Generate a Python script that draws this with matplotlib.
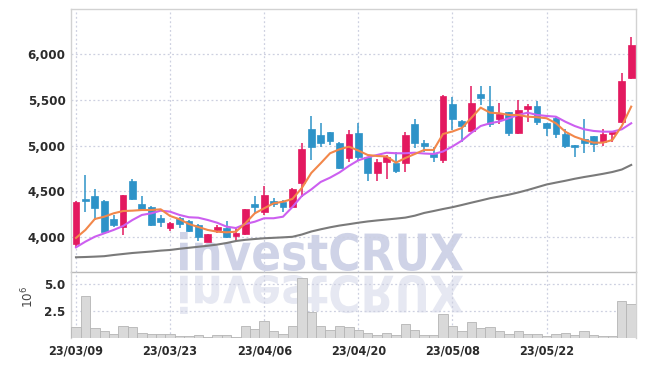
import matplotlib
matplotlib.use("Agg")
import matplotlib.pyplot as plt
from matplotlib.textpath import TextPath
from matplotlib.patches import PathPatch
from matplotlib.font_manager import FontProperties
from matplotlib.transforms import Affine2D
from matplotlib.ticker import FuncFormatter

plt.rcParams['font.family'] = ['DejaVu Sans']
plt.rcParams['font.stretch'] = 'condensed'

# daily candles, 23/03/09 .. 23/06/05
dates = ['23/03/09', '23/03/23', '23/04/06', '23/04/20', '23/05/08', '23/05/22']
date_idx = [0, 10, 20, 30, 40, 50]

opens = [3925, 4410, 4449, 4394, 4197, 4109, 4613, 4361, 4328, 4208,
         4098, 4208, 4170, 4131, 3949, 4077, 4102, 4011, 4033, 4361,
         4277, 4394, 4383, 4332, 4587, 5181, 5116, 5145, 5032, 4861,
         5135, 4872, 4704, 4817, 4813, 4813, 5233, 5032, 4908, 4842,
         5455, 5269, 5163, 5565, 5433, 5291, 5364, 5134, 5404, 5437,
         5244, 5298, 5127, 5007, 5072, 5105, 5043, 5124, 5255, 5736]
closes = [4385, 4400, 4317, 4055, 4131, 4459, 4416, 4306, 4131, 4164,
          4153, 4142, 4070, 3997, 4033, 4106, 3997, 4047, 4303, 4332,
          4459, 4365, 4332, 4522, 4959, 4988, 5025, 5054, 4751, 5124,
          4872, 4704, 4824, 4872, 4725, 5116, 5025, 4999, 4878, 5543,
          5288, 5218, 5463, 5524, 5233, 5346, 5134, 5389, 5433, 5262,
          5196, 5124, 4999, 4988, 5025, 5014, 5124, 5145, 5707, 6100]
highs = [4390, 4678, 4525, 4400, 4240, 4460, 4635, 4449, 4340, 4240,
         4160, 4219, 4185, 4140, 4035, 4128, 4178, 4095, 4310, 4449,
         4558, 4430, 4405, 4533, 5032, 5324, 5251, 5150, 5040, 5171,
         5251, 4880, 4850, 4897, 4933, 5152, 5288, 5061, 4988, 5550,
         5535, 5280, 5652, 5652, 5652, 5469, 5370, 5499, 5455, 5491,
         5250, 5310, 5178, 5010, 5288, 5110, 5178, 5150, 5797, 6185]
lows = [3880, 4274, 4185, 4050, 4110, 4022, 4405, 4300, 4120, 4110,
        4066, 4098, 4060, 3955, 3945, 4047, 3990, 3960, 4025, 4266,
        4241, 4332, 4277, 4325, 4441, 4842, 4988, 5010, 4740, 4824,
        4842, 4616, 4616, 4635, 4704, 4715, 4970, 4933, 4824, 4813,
        5171, 5043, 5160, 5444, 5207, 5236, 5105, 5130, 5262, 5225,
        5105, 5080, 4970, 4878, 4915, 4933, 4995, 5043, 5250, 5730]

ma_short = [3990, 4077, 4197, 4222, 4259, 4284, 4288, 4295, 4295, 4303,
            4230, 4194, 4142, 4109, 4077, 4058, 4051, 4058, 4150, 4259,
            4314, 4368, 4386, 4416, 4536, 4700, 4806, 4916, 4959, 4988,
            4946, 4897, 4886, 4881, 4813, 4864, 4908, 4952, 4952, 5127,
            5154, 5192, 5302, 5415, 5360, 5353, 5335, 5335, 5316, 5310,
            5299, 5244, 5152, 5097, 5061, 5032, 5032, 5061, 5214, 5426]
ma_mid = [3887, 3949, 4003, 4040, 4077, 4120, 4186, 4241, 4259, 4288,
          4277, 4241, 4216, 4211, 4186, 4156, 4113, 4098, 4142, 4167,
          4205, 4205, 4222, 4328, 4449, 4520, 4602, 4649, 4706, 4777,
          4839, 4872, 4897, 4922, 4916, 4916, 4922, 4913, 4908, 4935,
          4990, 5054, 5138, 5214, 5244, 5264, 5299, 5335, 5360, 5335,
          5324, 5316, 5261, 5214, 5178, 5160, 5152, 5152, 5178, 5244]
ma_long = [3778, 3781, 3785, 3790, 3803, 3814, 3825, 3833, 3841, 3851,
           3858, 3871, 3882, 3893, 3904, 3917, 3934, 3956, 3969, 3978,
           3986, 3991, 3996, 4002, 4027, 4060, 4084, 4106, 4125, 4140,
           4156, 4170, 4181, 4191, 4201, 4212, 4233, 4263, 4284, 4306,
           4326, 4350, 4375, 4399, 4424, 4443, 4463, 4487, 4514, 4544,
           4574, 4595, 4615, 4637, 4656, 4673, 4691, 4711, 4738, 4788]

# volume, millions
volume = [1.06, 3.88, 0.94, 0.66, 0.41, 1.13, 1.03, 0.50, 0.41, 0.41,
          0.41, 0.19, 0.19, 0.31, 0.09, 0.31, 0.31, 0.09, 1.13, 0.84,
          1.59, 0.66, 0.41, 1.13, 5.53, 2.41, 1.13, 0.75, 1.13, 1.03,
          0.75, 0.50, 0.31, 0.50, 0.31, 1.25, 0.75, 0.31, 0.31, 2.25,
          1.13, 0.66, 1.50, 0.97, 1.06, 0.66, 0.41, 0.66, 0.41, 0.41,
          0.19, 0.41, 0.50, 0.31, 0.66, 0.31, 0.19, 0.19, 3.41, 3.13]

UP = '#e3195f'
DOWN = '#2e93c8'
GRID = '#cdd0e0'
TXT = '#2b2b2b'

fig = plt.figure(figsize=(6.45, 3.66), dpi=100)
fig.patch.set_facecolor('white')
ax = fig.add_axes([71/645, 1 - 272/366, 565/645, 263/366])
axv = fig.add_axes([71/645, 1 - 338/366, 565/645, 66/366], sharex=ax)
for a in (ax, axv):
    a.set_facecolor('none')

n = len(opens)
xs = list(range(n))

# candles
for i in xs:
    o, c, h, l = opens[i], closes[i], highs[i], lows[i]
    col = UP if c > o else DOWN
    ax.vlines(i, l, h, color=col, linewidth=1.1, zorder=3)
    lo, hi = min(o, c), max(o, c)
    if hi - lo < 12:
        lo, hi = (lo + hi) / 2 - 6, (lo + hi) / 2 + 6
    ax.bar(i, hi - lo, bottom=lo, width=0.72, color=col, edgecolor=col,
           linewidth=0.5, zorder=4)

ax.plot(xs, ma_long, color='#7a7a7a', linewidth=1.5, zorder=5)
ax.plot(xs, ma_mid, color='#cc5ff0', linewidth=1.5, zorder=5)
ax.plot(xs, ma_short, color='#f2874a', linewidth=1.5, zorder=6)

axv.bar(xs, volume, width=1.0, color='#d9d9d9', edgecolor='#b5b5b5',
        linewidth=0.6, zorder=3)

ax.set_xlim(-0.53, 59.51)
ax.set_ylim(3617, 6494)
axv.set_ylim(0, 6.11)

ax.set_yticks([4000, 4500, 5000, 5500, 6000])
ax.yaxis.set_major_formatter(FuncFormatter(lambda v, p: f'{int(v):,}'))
axv.set_yticks([2.5, 5.0])
axv.set_yticklabels(['2.5', '5.0'])
axv.set_xticks(date_idx)
axv.set_xticklabels(dates)
plt.setp(ax.get_xticklabels(), visible=False)

for a in (ax, axv):
    a.grid(True, color=GRID, linestyle=(0, (1.5, 2)), linewidth=0.9)
    a.set_axisbelow(True)
    a.tick_params(length=0, colors=TXT, labelsize=9.5)
    for lab in a.get_yticklabels() + a.get_xticklabels():
        lab.set_fontweight('bold')
    for s in a.spines.values():
        s.set_color('#d2d2d2')
        s.set_linewidth(1.0)
ax.tick_params(axis='y', pad=4)
axv.tick_params(axis='y', pad=4)
axv.tick_params(axis='x', pad=5, labelsize=9)
ax.spines['bottom'].set_color('#b9b9b9')
axv.spines['top'].set_visible(False)
axv.spines['bottom'].set_visible(False)

axv.set_ylabel(r'$10^{6}$', color='#444444', fontsize=9.5)
axv.yaxis.set_label_coords(-0.062, 0.62)

# watermark + reflection
fp = FontProperties(family='DejaVu Sans', weight='bold', stretch='condensed')
tp = TextPath((0, 0), 'investCRUX', size=50, prop=fp)
ext = tp.get_extents()
x0, x1 = 180, 463
base = 366 - 272
cap = 366 - 233
sx = (x1 - x0) / ext.width
sy = (cap - base) / ext.height
t_main = Affine2D().translate(-ext.x0, -ext.y0).scale(sx, sy).translate(x0, base + 1)
t_refl = Affine2D().translate(-ext.x0, -ext.y0).scale(sx, -sy).translate(x0, base - 3)
fig.add_artist(PathPatch(tp, transform=t_main, facecolor='#cfd3e7',
                         edgecolor='none', zorder=-1))
fig.add_artist(PathPatch(tp, transform=t_refl, facecolor='#e6e8f2',
                         edgecolor='none', zorder=-1))

fig.savefig('out.png', dpi=100)
